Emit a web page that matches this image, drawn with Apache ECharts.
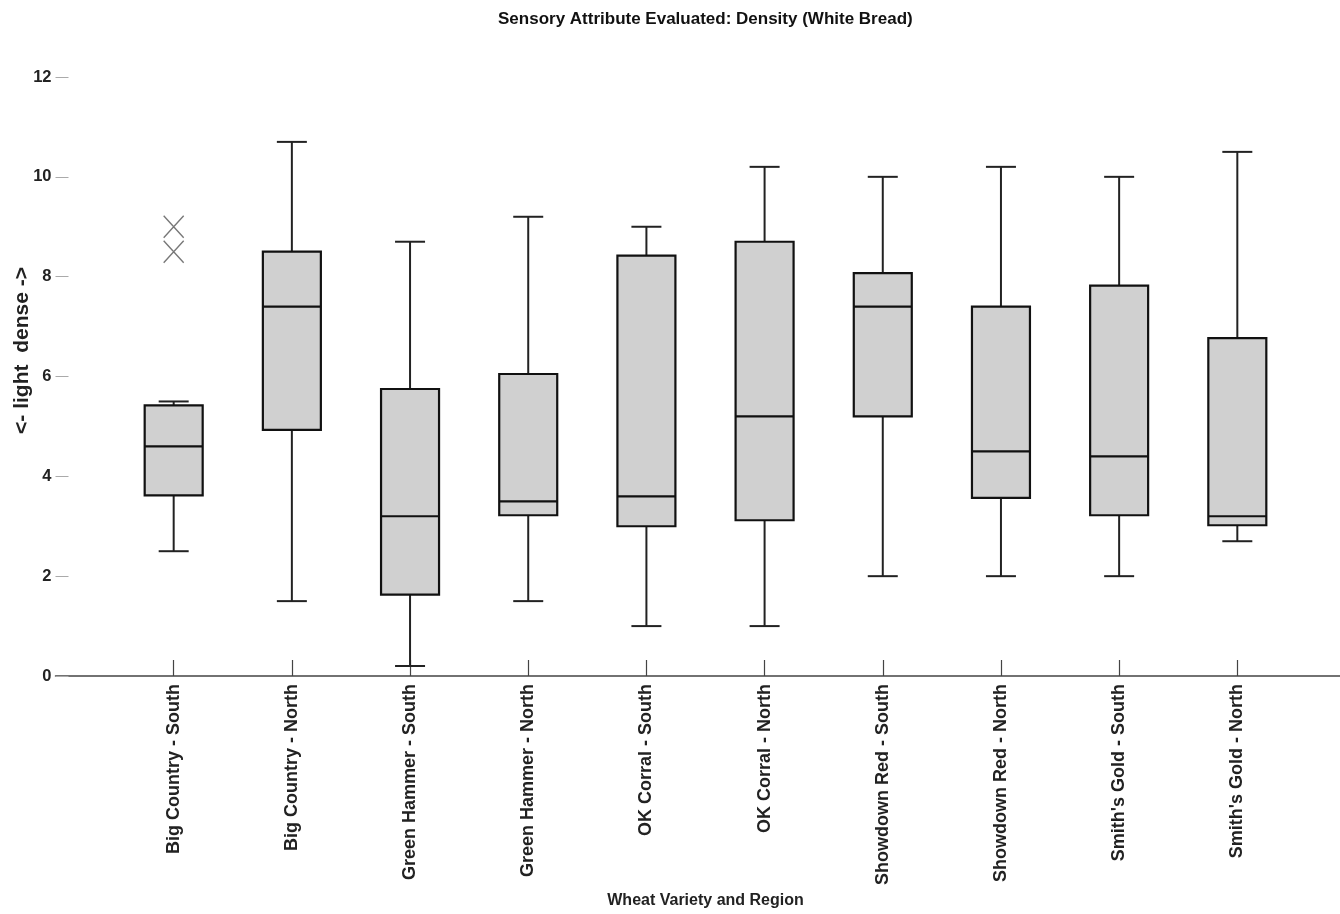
<!DOCTYPE html>
<html>
<head>
<meta charset="utf-8">
<script src="https://cdn.jsdelivr.net/npm/echarts@6/dist/echarts.min.js"></script>
<style>html,body{margin:0;padding:0;background:#fff}#c{width:1340px;height:914px}</style>
</head>
<body>
<div id="c"></div>
<script>
const categories = ["Big Country - South","Big Country - North","Green Hammer - South","Green Hammer - North","OK Corral - South","OK Corral - North","Showdown Red - South","Showdown Red - North","Smith's Gold - South","Smith's Gold - North"];
const whiskerLow  = [2.5, 1.5, 0.2, 1.5, 1.0, 1.0, 2.0, 2.0, 2.0, 2.7];
const q1          = [3.62, 4.93, 1.63, 3.22, 3.0, 3.12, 5.2, 3.57, 3.22, 3.02];
const median      = [4.6, 7.4, 3.2, 3.5, 3.6, 5.2, 7.4, 4.5, 4.4, 3.2];
const q3          = [5.42, 8.5, 5.75, 6.05, 8.42, 8.7, 8.07, 7.4, 7.82, 6.77];
const whiskerHigh = [5.5, 10.7, 8.7, 9.2, 9.0, 10.2, 10.0, 10.2, 10.0, 10.5];
const outlierCategory = ["Big Country - South", "Big Country - South"];
const outlierValues = [9.0, 8.5];
const yTicks = [0, 2, 4, 6, 8, 10, 12];

const FONT = "'Liberation Sans', Arial, Helvetica, sans-serif";
const axisCats = [""].concat(categories, [""]);
const boxData = categories.map((c, i) => [i + 1, whiskerLow[i], q1[i], median[i], q3[i], whiskerHigh[i]]);
const outlierData = outlierCategory.map((c, i) => [categories.indexOf(c) + 1, outlierValues[i]]);

const chart = echarts.init(document.getElementById('c'), null, {renderer: 'canvas'});
chart.setOption({
  backgroundColor: '#fff',
  animation: false,
  title: {
    text: 'Sensory Attribute Evaluated: Density (White Bread)',
    left: 493, top: 6,
    textStyle: {fontFamily: FONT, fontWeight: 'bold', fontSize: 17, color: '#111'}
  },
  grid: {left: 55.5, top: 77, width: 1300, bottom: 238, containLabel: false, outerBoundsMode: 'none'},
  xAxis: {
    type: 'category',
    data: axisCats,
    boundaryGap: false,
    name: 'Wheat Variety and Region',
    nameLocation: 'middle',
    nameGap: 215,
    nameTextStyle: {fontFamily: FONT, fontWeight: 'bold', fontSize: 16, color: '#222'},
    axisLine: {show: true, lineStyle: {color: '#444', width: 1.5}},
    axisTick: {show: true, inside: true, length: 16, lineStyle: {color: '#444', width: 1.2},
      interval: function (idx) { return idx > 0 && idx < axisCats.length - 1; }},
    axisLabel: {interval: 0, rotate: 90, margin: 8, fontFamily: FONT, fontWeight: 'bold', fontSize: 18, color: '#222'},
    splitLine: {show: false}
  },
  yAxis: {
    type: 'value',
    min: 0, max: 12, interval: 2,
    name: '<- light  dense ->',
    nameLocation: 'middle',
    nameGap: 23,
    nameMoveOverlap: false,
    nameRotate: 90,
    nameTextStyle: {fontFamily: FONT, fontWeight: 'bold', fontSize: 21, color: '#222', padding: [0, 0, 0, 52]},
    axisLine: {show: false},
    axisTick: {show: true, inside: true, length: 13, lineStyle: {color: '#aaa', width: 1}},
    axisLabel: {margin: 4, fontFamily: FONT, fontWeight: 'bold', fontSize: 16.5, color: '#222',
      formatter: function (v) { return yTicks.indexOf(v) >= 0 ? String(v) : ''; }},
    splitLine: {show: false}
  },
  series: [
    {
      type: 'custom',
      data: boxData,
      encode: {x: 0, y: [1, 2, 3, 4, 5]},
      renderItem: function (params, api) {
        const x = api.value(0);
        const pLow = api.coord([x, api.value(1)]);
        const pQ1 = api.coord([x, api.value(2)]);
        const pMed = api.coord([x, api.value(3)]);
        const pQ3 = api.coord([x, api.value(4)]);
        const pHigh = api.coord([x, api.value(5)]);
        const hw = 29, cw = 15, cx = pMed[0];
        const lineStyle = {stroke: '#222', lineWidth: 2};
        return {
          type: 'group',
          children: [
            {type: 'line', shape: {x1: cx, y1: pHigh[1], x2: cx, y2: pQ3[1]}, style: lineStyle},
            {type: 'line', shape: {x1: cx, y1: pQ1[1], x2: cx, y2: pLow[1]}, style: lineStyle},
            {type: 'line', shape: {x1: cx - cw, y1: pHigh[1], x2: cx + cw, y2: pHigh[1]}, style: lineStyle},
            {type: 'line', shape: {x1: cx - cw, y1: pLow[1], x2: cx + cw, y2: pLow[1]}, style: lineStyle},
            {type: 'rect', shape: {x: cx - hw, y: pQ3[1], width: 2 * hw, height: pQ1[1] - pQ3[1]},
              style: {fill: '#d0d0d0', stroke: '#111', lineWidth: 2.2}},
            {type: 'line', shape: {x1: cx - hw, y1: pMed[1], x2: cx + hw, y2: pMed[1]}, style: {stroke: '#111', lineWidth: 2.2}}
          ]
        };
      },
      z: 2
    },
    {
      type: 'scatter',
      data: outlierData,
      symbol: 'path://M0,0L10,10M0,10L10,0',
      symbolSize: [20, 22],
      itemStyle: {color: 'none', borderColor: '#555', borderWidth: 1.5},
      z: 3
    }
  ]
});
</script>
</body>
</html>
